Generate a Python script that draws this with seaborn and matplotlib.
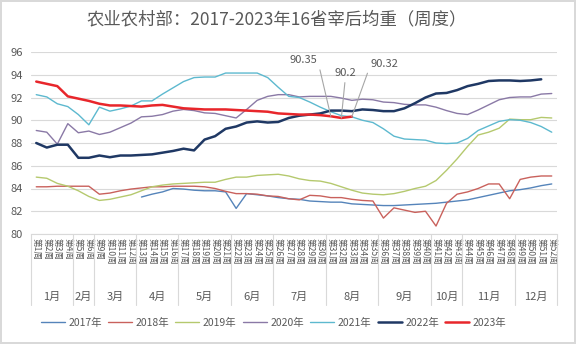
import numpy as np
import pandas as pd
import matplotlib
matplotlib.use("Agg")
import matplotlib.pyplot as plt
import matplotlib.transforms as mtrans
import seaborn as sns

nan = np.nan

# ---------------- data ----------------
title = "农业农村部：2017-2023年16省宰后均重（周度）"
weeks = [1, 2, 3, 4, 5, 6] + list(range(9, 53))
week_labels = [f"第{w}周" for w in weeks]
months = ["1月", "2月", "3月", "4月", "5月", "6月", "7月", "8月", "9月", "10月", "11月", "12月"]
month_week_counts = [4, 2, 4, 4, 5, 4, 5, 5, 5, 3, 5, 4]
years = ["2017年", "2018年", "2019年", "2020年", "2021年", "2022年", "2023年"]

y2017 = [nan] * 10 + [83.25, 83.5, 83.7, 84.0, 83.95, 83.85, 83.8, 83.8, 83.7, 82.25,
                      83.55, 83.45, 83.35, 83.2, 83.1, 83.05, 82.9, 82.85, 82.8, 82.8,
                      82.65, 82.6, 82.55, 82.5, 82.5, 82.55, 82.6, 82.65, 82.7, 82.8,
                      82.9, 83.0, 83.2, 83.4, 83.6, 83.8, 83.9, 84.05, 84.25, 84.4]
y2018 = [84.15, 84.15, 84.2, 84.2, 84.2, 84.2,
         83.5, 83.6, 83.8, 83.95, 84.05, 84.15, 84.15, 84.2, 84.2, 84.2, 84.15,
         84.0, 83.75, 83.55, 83.55, 83.5, 83.35, 83.3, 83.1, 83.0, 83.4, 83.35, 83.2,
         83.2, 83.05, 82.95, 82.9,
         81.4, 82.3, 82.1, 81.9, 82.0, 80.7, 82.7, 83.5, 83.7, 84.0, 84.4, 84.4,
         83.1, 84.8, 85.0, 85.1, 85.1]
y2019 = [85.0, 84.9, 84.45, 84.2, 83.8, 83.3, 82.95, 83.05, 83.25, 83.45, 83.8, 84.15,
         84.3, 84.4, 84.45, 84.5, 84.55,
         84.55, 84.8, 85.0, 85.0, 85.15, 85.2, 85.25, 85.1, 84.85, 84.7, 84.65, 84.45,
         84.15, 83.85, 83.6, 83.5,
         83.45, 83.55, 83.75, 84.0, 84.2, 84.7, 85.6, 86.6, 87.7, 88.7, 88.95, 89.3,
         90.1, 90.05, 90.05, 90.25, 90.2]
y2020 = [89.1, 88.95, 87.9, 89.7, 88.9, 89.05, 88.75, 88.95, 89.35, 89.75, 90.3, 90.35,
         90.5, 90.8, 90.95, 90.85, 90.65,
         90.6, 90.4, 90.2, 90.95, 91.75, 92.1, 92.25, 92.25, 92.05, 92.1, 92.1, 92.1,
         91.95, 91.75, 91.85, 91.8,
         91.6, 91.55, 91.4, 91.35, 91.35, 91.15, 90.85, 90.6, 90.5, 90.9, 91.35, 91.8,
         92.0, 92.05, 92.05, 92.3, 92.35]
y2021 = [92.25, 92.05, 91.45, 91.2, 90.5, 89.6, 91.15, 90.8, 91.0, 91.25, 91.7, 91.7,
         92.3, 92.85, 93.4, 93.75, 93.8,
         93.8, 94.15, 94.15, 94.15, 94.15, 93.75, 92.9, 92.1, 92.0, 91.6, 91.15, 90.75,
         90.4, 90.3, 90.0,
         89.8, 89.25, 88.6, 88.35, 88.3, 88.25, 88.0, 87.95, 88.0, 88.4, 89.1, 89.5,
         89.9, 90.05, 90.0, 89.8, 89.45, 88.95]
y2022 = [88.0, 87.6, 87.85, 87.85, 86.7, 86.7, 86.9, 86.75, 86.9, 86.9, 86.95, 87.0,
         87.15, 87.3, 87.5, 87.35, 88.3,
         88.6, 89.25, 89.45, 89.8, 89.9, 89.8, 89.85, 90.2, 90.4, 90.5, 90.6, 90.85,
         90.85, 90.8, 90.95, 90.9, 90.8, 90.8,
         91.05, 91.5, 92.0, 92.35, 92.4, 92.65, 93.0, 93.2, 93.45, 93.5, 93.5, 93.45,
         93.5, 93.6, nan]
y2023 = [93.4, 93.2, 93.0, 92.1, 91.9, 91.7, 91.45, 91.3, 91.3, 91.25, 91.2, 91.3,
         91.35, 91.2, 91.05, 91.0, 90.95, 90.95, 90.95, 90.9, 90.85, 90.8, 90.75, 90.6,
         90.55, 90.5, 90.5, 90.45, 90.35, 90.2, 90.32] + [nan] * 19

annotated_weeks = [31, 32, 33]
annotated_values = [90.35, 90.2, 90.32]

# ---------------- styling ----------------
series = [y2017, y2018, y2019, y2020, y2021, y2022, y2023]
colors = ["#5584BA", "#C9615C", "#B5C96E", "#8A79A6", "#5DB9CF", "#1F3864", "#E8262B"]
widths = [1.0, 1.0, 1.0, 1.0, 1.0, 1.8, 1.8]
text_color = "#595959"
grid_color = "#D9D9D9"

sns.set_theme(style="white")
plt.rcParams["font.family"] = ["Noto Sans CJK SC", "DejaVu Sans"]

rows = []
for yr, vals in zip(years, series):
    for pos, (lab, v) in enumerate(zip(week_labels, vals)):
        rows.append({"year": yr, "pos": pos, "week": lab, "value": v})
df = pd.DataFrame(rows)

fig = plt.figure(figsize=(5.76, 3.44), dpi=100)
ax = fig.add_axes([31 / 576, 1 - 234 / 344, (557 - 31) / 576, (234 - 52) / 344])

handles = []
for yr, c, lw in zip(years, colors, widths):
    sub = df[(df["year"] == yr)].dropna(subset=["value"])
    sns.lineplot(data=sub, x="pos", y="value", color=c, linewidth=lw, ax=ax,
                 legend=False, sort=True, estimator=None)
    handles.append(plt.Line2D([], [], color=c, linewidth=lw))

n = len(weeks)
ax.set_xlim(-0.5, n - 0.5)
ax.set_ylim(80, 96)
ax.set_yticks(np.arange(80, 97, 2))
ax.set_yticklabels([str(v) for v in range(80, 97, 2)], fontsize=8, color=text_color)
ax.yaxis.grid(True, color=grid_color, linewidth=0.8)
ax.set_axisbelow(True)
for s in ["top", "right", "left"]:
    ax.spines[s].set_visible(False)
ax.spines["bottom"].set_color(grid_color)
ax.spines["bottom"].set_linewidth(0.8)
ax.tick_params(axis="y", length=0, pad=6)
ax.tick_params(axis="x", length=0, pad=3)
ax.set_xticks(range(n))
ax.set_xticklabels(week_labels, rotation=-90, fontsize=6.2, color=text_color,
                   va="top", ha="center")
ax.set_xlabel("")
ax.set_ylabel("")

# month group separators and labels
trans = mtrans.blended_transform_factory(ax.transData, ax.transAxes)
edges = np.concatenate([[0], np.cumsum(month_week_counts)]) - 0.5
for e in edges:
    ax.plot([e, e], [0, -0.39], transform=trans, color=grid_color, linewidth=0.8,
            clip_on=False)
for m, a, b in zip(months, edges[:-1], edges[1:]):
    ax.text((a + b) / 2, -0.345, m, transform=trans, ha="center", va="center",
            fontsize=8, color=text_color)

# data labels on the last 2023 points
offsets = [(-27, 56), (4, 45), (33, 53)]
relpos = [(1.0, 0.5), (0.5, 0.0), (0.0, 0.5)]
for w, v, off, rp in zip(annotated_weeks, annotated_values, offsets, relpos):
    p = weeks.index(w)
    ax.annotate(f"{v:g}", xy=(p, v), xytext=off, textcoords="offset pixels",
                ha="center", va="center", fontsize=8, color=text_color,
                arrowprops=dict(arrowstyle="-", color="#A6A6A6", lw=0.8,
                                shrinkA=1, shrinkB=0, relpos=rp))

fig.text(0.48, 1 - 19 / 344, title, ha="center", va="center", fontsize=12.5,
         color=text_color)

fig.legend(handles, years, loc="center", bbox_to_anchor=(0.475, 1 - 323 / 344),
           ncol=7, frameon=False, fontsize=7.5, handlelength=2.3, columnspacing=0.6,
           handletextpad=0.35, labelcolor=text_color)

fig.patch.set_edgecolor("#D9D9D9")
fig.patch.set_linewidth(1.5)

fig.savefig("out.png", dpi=100, edgecolor=fig.get_edgecolor())
